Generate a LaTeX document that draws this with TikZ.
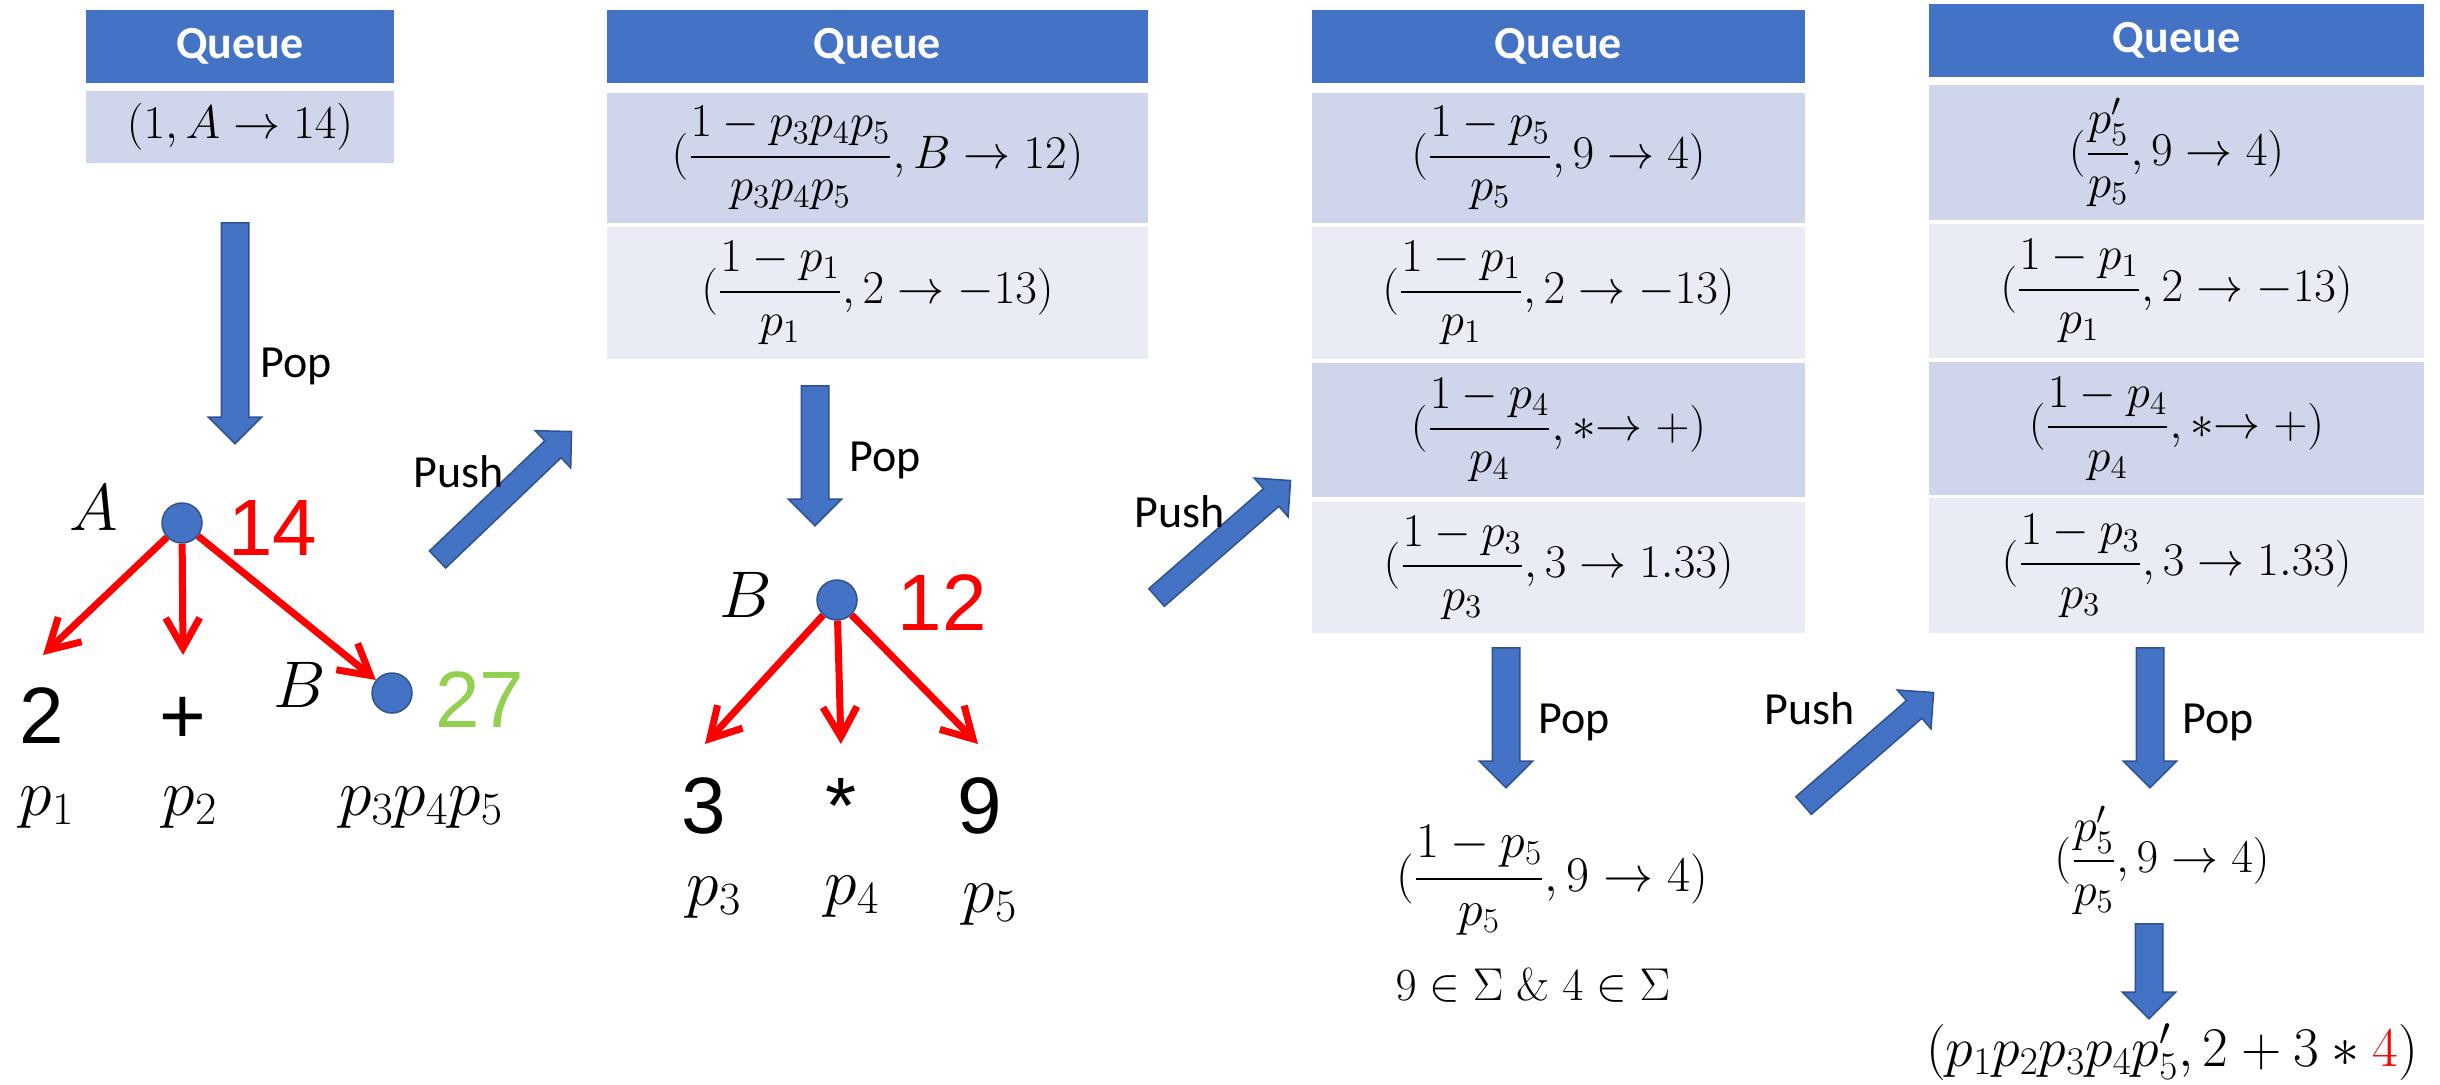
\RequirePackage{fix-cm}
\documentclass[tikz,border=0pt]{standalone}
\usepackage{amsmath}
\usepackage{fontspec}
\newfontfamily\calib{Carlito}
\newfontfamily\arialf{Liberation Sans}
\usetikzlibrary{shapes.arrows,arrows.meta,calc}
\definecolor{hdrblue}{HTML}{4472C4}
\definecolor{rowdark}{HTML}{CFD5EA}
\definecolor{rowlight}{HTML}{E9EBF5}
\definecolor{arrborder}{HTML}{2F528F}
\definecolor{treegreen}{HTML}{92D050}
\tikzset{
  qhead/.style={fill=hdrblue, text=white, font=\calib\bfseries\fontsize{23}{28}\selectfont, inner sep=0pt},
  qrowdark/.style={fill=rowdark, inner sep=0pt, font=\fontsize{23.5}{28}\selectfont},
  qrowlight/.style={fill=rowlight, inner sep=0pt, font=\fontsize{23.5}{28}\selectfont},
  tnode/.style={circle, fill=hdrblue, draw=arrborder, line width=0.75pt, minimum size=20pt, inner sep=0pt},
  redarr/.style={draw=red, line width=3.5pt, -{Straight Barb[length=15pt,width=17pt]}},
  barrow/.style={single arrow, fill=hdrblue, draw=arrborder, line width=0.75pt, inner xsep=0pt, inner ysep=0pt,
    text height=6.5pt, text depth=6.5pt, minimum width=26pt, single arrow head extend=6.5pt},
  parrow/.style={barrow, text height=5.5pt, text depth=5.5pt, minimum width=25pt, single arrow head extend=7pt},
  oplabel/.style={font=\calib\fontsize{23}{28}\selectfont, inner sep=0pt},
  digitlbl/.style={font=\arialf\fontsize{40}{48}\selectfont, inner sep=0pt, anchor=base},
  mlabel/.style={font=\fontsize{33}{40}\selectfont, inner sep=0pt, anchor=base},
  mtext/.style={inner sep=0pt},
}
\newcommand\blockarrow[4]{%
  \path let \p1=(#3), \p2=(#4), \n1={atan2(\y2-\y1,\x2-\x1)}, \n2={veclen(\x2-\x1,\y2-\y1)} in
    node[#1, rotate=\n1, minimum height=\n2, anchor=tail] (#2) at (\p1) {};}
\begin{document}
\begin{tikzpicture}[x=0.5pt, y=-0.5pt]
\useasboundingbox (0,0) rectangle (2440,1084);

% ---------- Panel 1 ----------
\node[qhead, minimum width=154pt, minimum height=36.5pt] (h1) at (240,46.5) {Queue};
\node[qrowdark, minimum width=154pt, minimum height=36pt] (r11) at (240,127) {$(1, A \rightarrow 14)$};

% ---------- Panel 2 ----------
\node[qhead, minimum width=270.5pt, minimum height=36.5pt] (h2) at (877.5,46.5) {Queue};
\node[qrowdark, minimum width=270.5pt, minimum height=65pt] (r21) at (877.5,158) {$(\dfrac{1-p_3p_4p_5}{p_3p_4p_5}, B \rightarrow 12)$};
\node[qrowlight, minimum width=270.5pt, minimum height=66pt] (r22) at (877.5,293) {$(\dfrac{1-p_1}{p_1}, 2 \rightarrow -13)$};

% ---------- Panel 3 ----------
\node[qhead, minimum width=246.5pt, minimum height=36.5pt] (h3) at (1558.5,46.5) {Queue};
\node[qrowdark, minimum width=246.5pt, minimum height=65pt] (r31) at (1558.5,158) {$(\dfrac{1-p_5}{p_5}, 9 \rightarrow 4)$};
\node[qrowlight, minimum width=246.5pt, minimum height=66pt] (r32) at (1558.5,293) {$(\dfrac{1-p_1}{p_1}, 2 \rightarrow -13)$};
\node[qrowdark, minimum width=246.5pt, minimum height=67pt] (r33) at (1558.5,430) {$(\dfrac{1-p_4}{p_4}, {*}{\rightarrow}\;{+})$};
\node[qrowlight, minimum width=246.5pt, minimum height=65.5pt] (r34) at (1558.5,567.5) {$(\dfrac{1-p_3}{p_3}, 3 \rightarrow 1.33)$};

% ---------- Panel 4 ----------
\node[qhead, minimum width=247.5pt, minimum height=36.5pt] (h4) at (2176.5,40.5) {Queue};
\node[qrowdark, minimum width=247.5pt, minimum height=67.5pt] (r41) at (2176.5,152.5) {$(\dfrac{p_5'}{p_5}, 9 \rightarrow 4)$};
\node[qrowlight, minimum width=247.5pt, minimum height=67pt] (r42) at (2176.5,291) {$(\dfrac{1-p_1}{p_1}, 2 \rightarrow -13)$};
\node[qrowdark, minimum width=247.5pt, minimum height=66.5pt] (r43) at (2176.5,428.5) {$(\dfrac{1-p_4}{p_4}, {*}{\rightarrow}\;{+})$};
\node[qrowlight, minimum width=247.5pt, minimum height=67.5pt] (r44) at (2176.5,565.5) {$(\dfrac{1-p_3}{p_3}, 3 \rightarrow 1.33)$};

% ---------- Tree 1 ----------
\node[tnode] (nA) at (182,523) {};
\node[mlabel] (lA) at (94,530) {$A$};
\node[digitlbl, text=red] (v14) at (273,555) {14};
\coordinate (t1) at (43,655);
\coordinate (t2) at (183,655);
\node[tnode] (nB1) at (392,693) {};
\node[mlabel] (lB1) at (300,707) {$B$};
\node[digitlbl, text=treegreen] (v27) at (480,727) {27};
\node[digitlbl] (c2) at (42,743) {2};
\node[digitlbl] (cplus) at (183,743) {+};
\node[mlabel] (lp1) at (47,815) {$p_1$};
\node[mlabel] (lp2) at (190,815) {$p_2$};
\node[mlabel] (lp345) at (421,815) {$p_3p_4p_5$};
\draw[redarr] (nA) -- (t1);
\draw[redarr] (nA) -- (t2);
\draw[redarr] (nA) -- (nB1);

% ---------- Tree 2 ----------
\node[tnode] (nB2) at (837,600) {};
\node[mlabel] (lB2) at (746,617) {$B$};
\node[digitlbl, text=red] (v12) at (942,630) {12};
\coordinate (t3) at (705,744);
\coordinate (t4) at (841,744);
\coordinate (t5) at (978,744);
\node[digitlbl] (c3) at (704,833) {3};
\node[digitlbl] (cast) at (841,833) {*};
\node[digitlbl] (c9) at (980,833) {9};
\node[mlabel] (lp3) at (714,905) {$p_3$};
\node[mlabel] (lp4) at (852,904) {$p_4$};
\node[mlabel] (lp5) at (990,912) {$p_5$};
\draw[redarr] (nB2) -- (t3);
\draw[redarr] (nB2) -- (t4);
\draw[redarr] (nB2) -- (t5);

% ---------- Results ----------
\node[mtext, font=\fontsize{25}{30}\selectfont] (res3) at (1552,880) {$(\dfrac{1-p_5}{p_5}, 9 \rightarrow 4)$};
\node[mtext, font=\fontsize{23}{28}\selectfont] (sig3) at (1533,985) {$9 \in \Sigma \;\&\; 4 \in \Sigma$};
\node[mtext, font=\fontsize{23.5}{28}\selectfont] (res4) at (2162,860) {$(\dfrac{p_5'}{p_5}, 9 \rightarrow 4)$};
\node[mtext, font=\fontsize{28}{33}\selectfont] (final) at (2172,1052) {$(p_1p_2p_3p_4p_5', 2 + 3 * \textcolor{red}{4})$};

% ---------- Block arrows ----------
\coordinate (pop1s) at (235,222);   \coordinate (pop1e) at (235,443);
\coordinate (pop2s) at (815,385);   \coordinate (pop2e) at (815,525);
\coordinate (pop3s) at (1506,647);  \coordinate (pop3e) at (1506,787);
\coordinate (pop4s) at (2150,647);  \coordinate (pop4e) at (2150,787);
\coordinate (pop5s) at (2149,923);  \coordinate (pop5e) at (2149,1018);
\coordinate (push1s) at (437,560);  \coordinate (push1e) at (571,432);
\coordinate (push2s) at (1156,598); \coordinate (push2e) at (1290,481);
\coordinate (push3s) at (1803,806); \coordinate (push3e) at (1933,693);
\blockarrow{barrow}{pop1}{pop1s}{pop1e}
\blockarrow{barrow}{pop2}{pop2s}{pop2e}
\blockarrow{barrow}{pop3}{pop3s}{pop3e}
\blockarrow{barrow}{pop4}{pop4s}{pop4e}
\blockarrow{barrow}{pop5}{pop5s}{pop5e}
\blockarrow{parrow}{push1}{push1s}{push1e}
\blockarrow{parrow}{push2}{push2s}{push2e}
\blockarrow{parrow}{push3}{push3s}{push3e}

\node[oplabel] (pop1l) at (296,366) {Pop};
\node[oplabel] (pop2l) at (885,460) {Pop};
\node[oplabel] (pop3l) at (1574,722) {Pop};
\node[oplabel] (pop4l) at (2218,722) {Pop};
\node[oplabel] (push1l) at (459,472) {Push};
\node[oplabel] (push2l) at (1180,512) {Push};
\node[oplabel] (push3l) at (1810,709) {Push};
\end{tikzpicture}
\end{document}
